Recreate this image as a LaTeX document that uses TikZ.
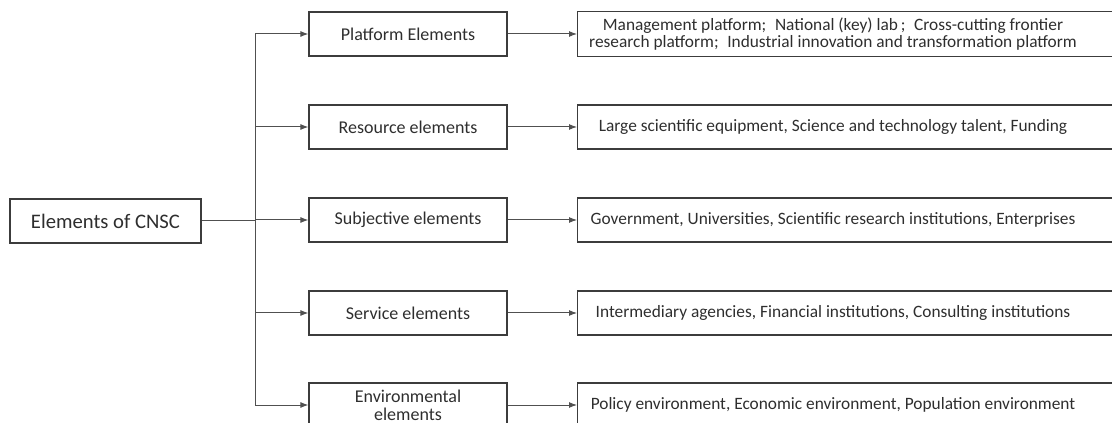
\documentclass[tikz,border=0pt]{standalone}
\usepackage{fontspec}
\setmainfont{Carlito}
\usetikzlibrary{arrows.meta}

\definecolor{boxline}{HTML}{3C3C3C}
\definecolor{linkline}{HTML}{505050}
\definecolor{txt}{HTML}{2E2E2E}

\begin{document}
\begin{tikzpicture}[x=0.75pt,y=-0.75pt,
    every node/.style={text=txt},
    rootbox/.style={draw=boxline,line width=0.9pt,minimum width=143.25pt,minimum height=33pt,inner sep=0pt,font=\fontsize{15.5}{18}\selectfont},
    midbox/.style={draw=boxline,line width=0.9pt,minimum width=148.5pt,minimum height=33pt,inner sep=0pt,align=center,font=\fontsize{13.5}{13.5}\selectfont},
    rightbox/.style={draw=boxline,line width=0.9pt,anchor=west,minimum width=420pt,minimum height=33pt,inner sep=0pt},
    righttext/.style={inner sep=0pt,align=center,font=\fontsize{13}{13}\selectfont},
    link/.style={draw=linkline,line width=0.75pt},
    arrow/.style={link,-{Latex[length=6pt,width=4.5pt]}}]

    % frame
    \useasboundingbox (0,0) rectangle (1112,423);
    \clip (0,0) rectangle (1112,423);

    % root
    \node[rootbox] (root) at (105.5,221) {Elements of CNSC};
    \coordinate (split) at (255,221);

    % middle column
    \node[midbox] (m1) at (408,34) {Platform Elements};
    \node[midbox] (m2) at (408,127) {Resource elements};
    \node[midbox] (m3) at (408,220) {Subjective elements};
    \node[midbox] (m4) at (408,313) {Service elements};
    \node[midbox] (m5) at (408,405) {Environmental\\elements};

    % right column
    \node[rightbox,minimum height=34pt] (r1) at (577,34) {};
    \node[rightbox] (r2) at (577,127) {};
    \node[rightbox] (r3) at (577,220) {};
    \node[rightbox] (r4) at (577,313) {};
    \node[rightbox] (r5) at (577,405) {};

    \node[righttext] (t1) at (833,34) {Management platform;\enspace National (key) lab\,;\enspace Cross-cutting frontier\\research platform;\enspace Industrial innovation and transformation platform};
    \node[righttext] (t2) at (833,127) {Large scientific equipment, Science and technology talent, Funding};
    \node[righttext] (t3) at (833,220) {Government, Universities, Scientific research institutions, Enterprises};
    \node[righttext] (t4) at (833,313) {Intermediary agencies, Financial institutions, Consulting institutions};
    \node[righttext] (t5) at (833,405) {Policy environment, Economic environment, Population environment};

    % connectors
    \draw[link] (root) -- (split);
    \draw[link] (split |- m1) -- (split |- m5);
    \foreach \i in {1,...,5}{
        \draw[arrow] (split |- m\i) -- (m\i);
        \draw[arrow] (m\i) -- (r\i);
    }
\end{tikzpicture}
\end{document}
